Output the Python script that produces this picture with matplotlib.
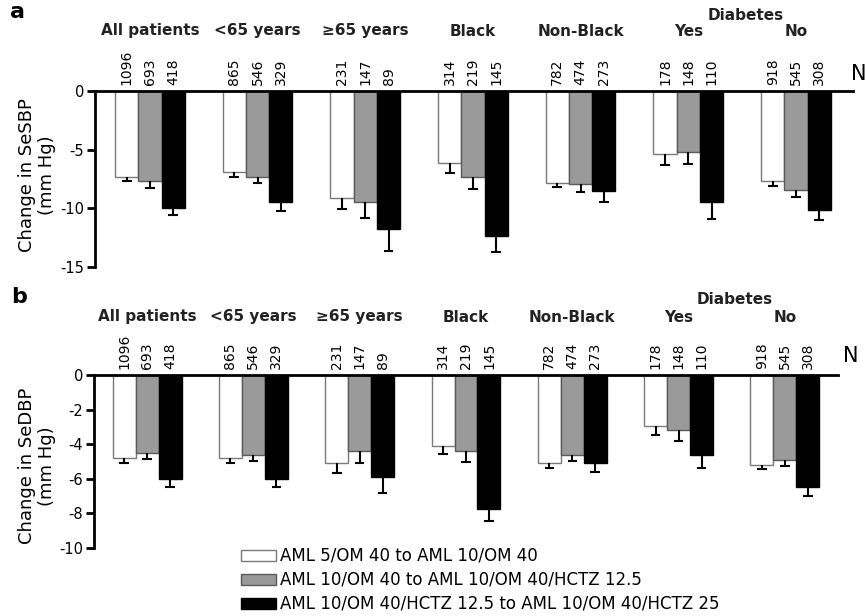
import numpy as np
import matplotlib
matplotlib.use("Agg")
import matplotlib.pyplot as plt
from matplotlib.patches import Patch
from matplotlib import transforms

plt.rcParams['font.family'] = ['DejaVu Sans']

groups = ["All patients", "<65 years", "\u226565 years", "Black", "Non-Black", "Yes", "No"]

# patients per step (rotated numbers above bars)
n_step1 = [1096, 865, 231, 314, 782, 178, 918]
n_step2 = [693, 546, 147, 219, 474, 148, 545]
n_step3 = [418, 329, 89, 145, 273, 110, 308]

# panel a: change in SeSBP (mm Hg), mean and SE
sbp_step1 = [-7.3, -6.9, -9.1, -6.15, -7.8, -5.4, -7.7]
sbp_step1_se = [0.35, 0.4, 0.95, 0.8, 0.4, 0.9, 0.4]
sbp_step2 = [-7.7, -7.3, -9.45, -7.3, -7.9, -5.2, -8.4]
sbp_step2_se = [0.55, 0.55, 1.35, 1.05, 0.7, 1.0, 0.6]
sbp_step3 = [-9.95, -9.45, -11.75, -12.4, -8.55, -9.5, -10.1]
sbp_step3_se = [0.65, 0.8, 1.85, 1.3, 0.9, 1.4, 0.9]

# panel b: change in SeDBP (mm Hg), mean and SE
dbp_step1 = [-4.8, -4.8, -5.1, -4.1, -5.1, -2.95, -5.2]
dbp_step1_se = [0.3, 0.3, 0.55, 0.45, 0.3, 0.5, 0.25]
dbp_step2 = [-4.5, -4.6, -4.4, -4.4, -4.6, -3.2, -4.9]
dbp_step2_se = [0.35, 0.35, 0.7, 0.6, 0.35, 0.6, 0.35]
dbp_step3 = [-6.0, -6.0, -5.9, -7.75, -5.1, -4.6, -6.5]
dbp_step3_se = [0.45, 0.45, 0.9, 0.7, 0.5, 0.75, 0.5]

legend_labels = ["AML 5/OM 40 to AML 10/OM 40",
                 "AML 10/OM 40 to AML 10/OM 40/HCTZ 12.5",
                 "AML 10/OM 40/HCTZ 12.5 to AML 10/OM 40/HCTZ 25"]

face = ["white", "#9a9a9a", "black"]
edge = ["#7a7a7a", "#5a5a5a", "black"]

W, H = 866, 616
fig = plt.figure(figsize=(W / 100, H / 100), dpi=100)


def px(x0, y0, x1, y1):
    # pixel box -> figure fraction rect
    return [x0 / W, 1 - y1 / H, (x1 - x0) / W, (y1 - y0) / H]


def draw_panel(ax, means, ses, ns, yticks, ylabel, label_y, diab_y, n_pos, letter_pos, ylab_x):
    x = np.arange(len(groups))
    bw = 0.216
    cap = 0.045
    for k in range(3):
        xs = x + (k - 1) * bw
        m = np.array(means[k])
        s = np.array(ses[k])
        ax.bar(xs, m, width=bw, color=face[k], edgecolor=edge[k], linewidth=1.0, zorder=2)
        ax.vlines(xs, m, m - s, color="black", lw=1.5, zorder=3)
        ax.hlines(m - s, xs - cap, xs + cap, color="black", lw=1.5, zorder=3)
        for xi, n in zip(xs, ns[k]):
            ax.annotate(str(n), xy=(xi, 0), xytext=(0, 4), textcoords="offset points",
                        rotation=90, ha="center", va="bottom", fontsize=10,
                        annotation_clip=False)

    ax.set_ylim(yticks[-1], 0)
    ax.set_yticks(yticks)
    ax.set_yticklabels([str(t) for t in yticks])
    ax.set_xticks([])
    for side in ["right", "bottom"]:
        ax.spines[side].set_visible(False)
    ax.spines["left"].set_linewidth(2)
    ax.spines["top"].set_linewidth(2)
    ax.tick_params(axis="y", direction="out", length=6, width=2, labelsize=10.5, pad=2)

    tr = transforms.blended_transform_factory(ax.transData, fig.transFigure)
    for xi, g in zip(x, groups):
        ax.text(xi, 1 - label_y / H, g, transform=tr, ha="center", va="center",
                fontsize=11, fontweight="bold", color="#222222")
    ax.text((x[5] + x[6]) / 2 + 0.03, 1 - diab_y / H, "Diabetes", transform=tr,
            ha="center", va="center", fontsize=11, fontweight="bold", color="#222222")

    fig.text(n_pos[0] / W, 1 - n_pos[1] / H, "N", fontsize=15, ha="left", va="center")
    fig.text(letter_pos[0] / W, 1 - letter_pos[1] / H, letter_pos[2], fontsize=16,
             fontweight="bold", ha="left", va="center")
    fig.text(ylab_x / W, 1 - ylabel[1] / H, ylabel[0], rotation=90, ha="center",
             va="center", fontsize=13, multialignment="center")


ax_a = fig.add_axes(px(95, 91, 853, 267))
ax_a.set_xlim(-0.51, 6.53)
draw_panel(ax_a,
           [sbp_step1, sbp_step2, sbp_step3],
           [sbp_step1_se, sbp_step2_se, sbp_step3_se],
           [n_step1, n_step2, n_step3],
           [0, -5, -10, -15],
           ("Change in SeSBP\n(mm Hg)", 175), 31, 15, (851, 74), (10, 12, "a"), 37)

ax_b = fig.add_axes(px(94, 375, 838, 548))
ax_b.set_xlim(-0.5, 6.5)
draw_panel(ax_b,
           [dbp_step1, dbp_step2, dbp_step3],
           [dbp_step1_se, dbp_step2_se, dbp_step3_se],
           [n_step1, n_step2, n_step3],
           [0, -2, -4, -6, -8, -10],
           ("Change in SeDBP\n(mm Hg)", 466), 317, 299, (843, 356), (11, 297, "b"), 37)

handles = [Patch(facecolor=face[k], edgecolor=edge[k], linewidth=1.0) for k in range(3)]
fig.legend(handles, legend_labels, loc="upper left", bbox_to_anchor=(241 / W, 1 - 547 / H),
           frameon=False, fontsize=12, handlelength=2.1, handleheight=0.65,
           handletextpad=0.25, labelspacing=0.36, borderpad=0, borderaxespad=0)

fig.savefig("out.png", dpi=100)
